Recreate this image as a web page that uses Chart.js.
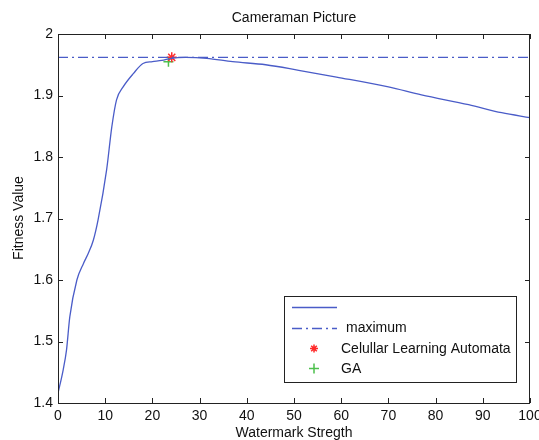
<!DOCTYPE html>
<html>
<head>
<meta charset="utf-8">
<script src="https://cdn.jsdelivr.net/npm/chart.js@4"></script>
<style>
  html, body { margin: 0; padding: 0; background: #fff; }
  #wrap { width: 539px; height: 440px; }
</style>
</head>
<body>
<div id="wrap"><canvas id="fit" width="539" height="440"></canvas></div>
<script>
// values
const strength = [0, 1.1, 1.8, 2.5, 4, 5.4, 6.4, 7.5, 8.5, 10.3, 11.4, 12.4, 13.8, 16, 18, 20, 22, 24, 27, 31.5, 37, 44, 51, 59, 70, 77, 87, 94, 100];
const fitness = [1.416, 1.454, 1.486, 1.540, 1.600, 1.627, 1.643, 1.665, 1.698, 1.779, 1.849, 1.893, 1.914, 1.936, 1.952, 1.955, 1.957, 1.9605, 1.962, 1.9605, 1.955, 1.950, 1.941, 1.930, 1.914, 1.901, 1.885, 1.872, 1.864];
const maximum = 1.962;
const claPoint = [24.1, 1.962];
const gaPoint = [23.4, 1.955];
const xTicks = [0, 10, 20, 30, 40, 50, 60, 70, 80, 90, 100];
const yTicks = [1.4, 1.5, 1.6, 1.7, 1.8, 1.9, 2];
const labels = ['', 'maximum', 'Celullar Learning Automata', 'GA'];

const FONT = '"Liberation Sans", Arial, sans-serif';
const BLUE = '#4a5cc8';

const frame = {
  id: 'frame',
  afterDraw(chart) {
    const { ctx, chartArea: a, scales } = chart;
    ctx.save();
    // box
    ctx.strokeStyle = '#222';
    ctx.lineWidth = 1;
    ctx.strokeRect(a.left + 0.5, a.top + 0.5, a.right - a.left - 1, a.bottom - a.top);
    // inward ticks on all four sides
    ctx.beginPath();
    scales.x.ticks.forEach(t => {
      const px = Math.round(scales.x.getPixelForValue(t.value)) + 0.5;
      ctx.moveTo(px, a.bottom); ctx.lineTo(px, a.bottom - 5);
      ctx.moveTo(px, a.top); ctx.lineTo(px, a.top + 5);
    });
    scales.y.ticks.forEach(t => {
      const py = Math.round(scales.y.getPixelForValue(t.value)) + 0.5;
      ctx.moveTo(a.left, py); ctx.lineTo(a.left + 5, py);
      ctx.moveTo(a.right, py); ctx.lineTo(a.right - 5, py);
    });
    ctx.stroke();

    // titles
    ctx.fillStyle = '#111';
    ctx.font = '14px ' + FONT;
    ctx.textAlign = 'center';
    ctx.textBaseline = 'middle';
    ctx.fillText('Cameraman Picture', 294, 18);
    ctx.fillText('Watermark Stregth', 294, 433);
    ctx.save();
    ctx.translate(19, 218);
    ctx.rotate(-Math.PI / 2);
    ctx.fillText('Fitness Value', 0, 0);
    ctx.restore();

    // legend
    ctx.fillStyle = '#fff';
    ctx.fillRect(284, 296, 233, 87);
    ctx.strokeStyle = '#222';
    ctx.strokeRect(284.5, 296.5, 232, 86);
    ctx.lineWidth = 1.3;
    ctx.strokeStyle = BLUE;
    ctx.beginPath(); ctx.moveTo(292, 307.5); ctx.lineTo(337, 307.5); ctx.stroke();
    ctx.setLineDash([10, 4, 2, 4]);
    ctx.beginPath(); ctx.moveTo(292, 328.5); ctx.lineTo(337, 328.5); ctx.stroke();
    ctx.setLineDash([]);
    // star
    ctx.strokeStyle = '#ff2a2a';
    ctx.lineWidth = 1.5;
    ctx.beginPath();
    ctx.moveTo(314, 344.5); ctx.lineTo(314, 352.5);
    ctx.moveTo(310, 348.5); ctx.lineTo(318, 348.5);
    ctx.moveTo(311.2, 345.7); ctx.lineTo(316.8, 351.3);
    ctx.moveTo(316.8, 345.7); ctx.lineTo(311.2, 351.3);
    ctx.stroke();
    // plus
    ctx.strokeStyle = '#4cc04c';
    ctx.beginPath();
    ctx.moveTo(314, 363.5); ctx.lineTo(314, 373.5);
    ctx.moveTo(309, 368.5); ctx.lineTo(319, 368.5);
    ctx.stroke();

    ctx.fillStyle = '#111';
    ctx.font = '14px ' + FONT;
    ctx.textAlign = 'left';
    ctx.fillText(labels[0], 346, 307);
    ctx.fillText(labels[1], 346, 328);
    ctx.fillText(labels[2], 341, 349);
    ctx.fillText(labels[3], 341, 369);
    ctx.restore();
  }
};

new Chart(document.getElementById('fit'), {
  type: 'scatter',
  data: {
    datasets: [
      {
        label: labels[0],
        data: strength.map((x, i) => ({ x: x, y: fitness[i] })),
        showLine: true,
        borderColor: BLUE,
        borderWidth: 1.3,
        pointRadius: 0,
        cubicInterpolationMode: 'monotone'
      },
      {
        label: labels[1],
        data: [{ x: xTicks[0], y: maximum }, { x: xTicks[xTicks.length - 1], y: maximum }],
        showLine: true,
        borderColor: BLUE,
        borderWidth: 1.3,
        borderDash: [10, 4, 2, 4],
        pointRadius: 0
      },
      {
        label: labels[2],
        data: [{ x: claPoint[0], y: claPoint[1] }],
        pointStyle: 'star',
        pointRadius: 5,
        borderColor: '#ff2a2a',
        borderWidth: 1.5
      },
      {
        label: labels[3],
        data: [{ x: gaPoint[0], y: gaPoint[1] }],
        pointStyle: 'cross',
        pointRadius: 5,
        borderColor: '#4cc04c',
        borderWidth: 1.5
      }
    ]
  },
  options: {
    responsive: false,
    animation: false,
    layout: { padding: { top: 34, right: 9, left: 0, bottom: 0 } },
    plugins: {
      legend: { display: false },
      title: { display: false },
      tooltip: { enabled: false }
    },
    scales: {
      x: {
        type: 'linear',
        min: 0,
        max: 100,
        afterBuildTicks: s => { s.ticks = xTicks.map(v => ({ value: v })); },
        afterFit: s => { s.height = 37; s.paddingLeft = 0; s.paddingRight = 0; },
        grid: { display: false, drawTicks: false },
        border: { display: false },
        ticks: { padding: 5, color: '#111', font: { family: FONT, size: 14 } }
      },
      y: {
        min: 1.4,
        max: 2,
        afterBuildTicks: s => { s.ticks = yTicks.map(v => ({ value: v })); },
        afterFit: s => { s.width = 58; s.paddingTop = 0; s.paddingBottom = 0; },
        grid: { display: false, drawTicks: false },
        border: { display: false },
        ticks: { padding: 5, color: '#111', font: { family: FONT, size: 14 }, callback: v => String(v) }
      }
    }
  },
  plugins: [frame]
});
</script>
</body>
</html>
